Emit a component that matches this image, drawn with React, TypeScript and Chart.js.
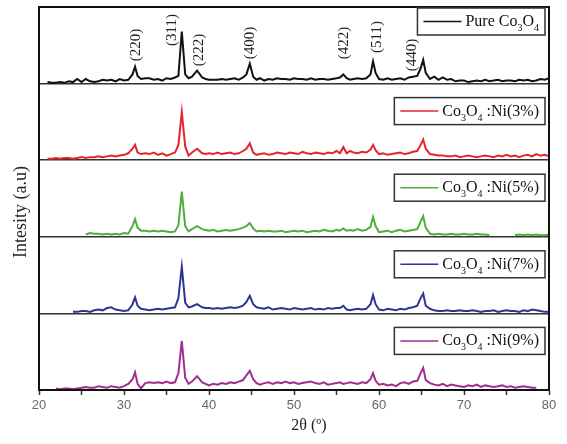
import React, { useEffect, useRef } from 'react';
import { Chart, registerables } from 'chart.js';
Chart.register(...registerables);

// 2θ positions (degrees)
const twoTheta = [
  21, 21.5, 22, 22.5, 23, 23.5, 24, 24.5, 25, 25.5, 26, 26.5, 27, 27.5, 28, 28.5, 29, 29.5, 30, 30.5, 31.0,
  31.3, 31.6,
  32, 32.5, 33, 33.5, 34, 34.5, 35, 35.5, 36,
  36.4, 36.8, 37.2, 37.6, 38,
  38.6, 39.2, 39.6,
  40, 40.5, 41, 41.5, 42, 42.5, 43, 43.5, 44,
  44.4, 44.8, 45.2, 45.6,
  46, 46.5, 47, 47.5, 48, 48.5, 49, 49.5, 50, 50.5, 51, 51.5, 52, 52.5, 53, 53.5, 54, 54.5, 55,
  55.4, 55.8, 56.2, 56.6,
  57, 57.5, 58, 58.5, 59,
  59.3, 59.6,
  60, 60.5, 61, 61.5, 62, 62.5, 63, 63.5, 64, 64.5,
  64.9, 65.2, 65.5,
  66, 66.5, 67, 67.5, 68, 68.5, 69, 69.5, 70, 70.5, 71, 71.5, 72, 72.5, 73, 73.5, 74, 74.5, 75, 75.5, 76, 76.5, 77, 77.5, 78, 78.5, 79, 79.5, 80,
];

const pureCo3O4 = [
  2, 1, 1, 2, 1, 3, 2, 6, 2, 6, 3, 2, 3, 5, 4, 5, 3, 6, 4, 5, 12,
  22, 10,
  6, 7, 7, 5, 6, 4, 7, 6, 8,
  10, 68, 12, 7, 9,
  17, 8, 6,
  5, 5, 5, 6, 5, 6, 7, 5, 8,
  12, 26, 9, 5,
  7, 4, 6, 5, 7, 6, 6, 5, 7, 6, 6, 5, 7, 5, 6, 6, 5, 6, 7,
  8, 12, 7, 5,
  6, 7, 6, 7, 12,
  29, 14,
  6, 5, 7, 5, 6, 7, 5, 8, 9, 10,
  20, 31, 14,
  6, 9, 5, 8, 5, 6, 3, 4, 4, 2, 3, 4, 3, 5, 3, 4, 5, 3, 4, 4, 3, 5, 4, 5, 3, 4, 6, 5, 7,
];

const ni3 = [
  2, 2, 3, 2, 3, 3, 2, 3, 4, 3, 4, 4, 5, 4, 5, 6, 5, 6, 7, 9, 15,
  20, 10,
  8, 9, 8, 10, 7, 9, 6, 8, 10,
  20, 63, 18, 6, 10,
  15, 9, 8,
  9, 8, 10, 8, 9, 10, 8, 9, 12,
  15, 22, 10, 7,
  8, 9, 7, 8, 10, 9, 8, 10, 9, 8, 11, 9, 8, 10, 9, 8, 10, 9, 12,
  9, 17, 9, 12,
  10, 9, 11, 10, 14,
  20, 13,
  8, 9, 7, 8, 9, 10, 8, 9, 11, 12,
  20, 27, 15,
  8, 7, 6, 6, 5, 5, 6, 4, 5, 6, 5, 4, 5, 6, 5, 4, 6, 5, 7, 5, 6, 4, 6, 7, 5, 8, 6, 7, 5,
];

const ni5 = [
  null, null, null, null, null, null, null, null, null, 3, 5, 4, 4, 3, 4, 3, 4, 3, 5, 4, 14,
  23, 12,
  8, 8, 7, 8, 7, 8, 7, 6, 7,
  15, 59, 14, 7, 10,
  14, 10, 9,
  8, 9, 7, 8, 9, 8, 9, 10, 12,
  14, 18, 11, 7,
  8, 7, 8, 7, 7, 8, 6, 7, 8, 7, 8, 6, 7, 8, 7, 9, 8, 7, 9,
  8, 11, 8, 9,
  8, 10, 8, 9, 13,
  26, 14,
  6, 7, 8, 6, 8, 9, 7, 8, 9, 10,
  20, 27, 12,
  4, 3, 4, 3, 3, 4, 3, 3, 4, 3, 3, 4, 3, 3, 2, null, null, null, null, null, 2, 3, 2, 3, 2, 3, 2, 2, 3,
];

const ni7 = [
  null, null, null, null, null, null, 2, 2, 3, 3, 2, 4, 5, 4, 7, 8, 5, 4, 3, 4, 12,
  21, 10,
  6, 5, 4, 5, 6, 5, 6, 7, 8,
  20, 61, 14, 8, 9,
  12, 8, 7,
  7, 6, 7, 6, 7, 8, 7, 8, 10,
  15, 23, 12, 8,
  7, 6, 8, 5, 6, 7, 6, 5, 7, 6, 5, 6, 7, 5, 6, 5, 7, 6, 7,
  7, 10, 5, 4,
  5, 6, 5, 6, 12,
  24, 12,
  5, 4, 6, 5, 4, 6, 5, 7, 8, 10,
  20, 26, 10,
  6, 4, 3, 3, 4, 3, 3, 4, 3, 3, 4, 3, 2, 3, 3, 4, 2, 3, 4, 3, 3, 2, 4, 3, 5, 4, 3, 2, 2,
];

const ni9 = [
  null, null, 2, 1, 2, 2, 1, 2, 3, 4, 3, 3, 5, 4, 3, 5, 4, 3, 5, 8, 14,
  23, 8,
  2, 9, 10, 9, 10, 9, 11, 9, 10,
  22, 64, 16, 8, 11,
  18, 10, 8,
  6, 8, 7, 9, 8, 10, 9, 11, 13,
  19, 25, 14, 9,
  7, 9, 10, 8, 10, 9, 11, 9, 10, 8, 9, 10, 11, 9, 8, 10, 7, 8, 9,
  10, 8, 9, 10,
  9, 8, 10, 9, 14,
  22, 12,
  7, 8, 6, 7, 5, 9, 10, 8, 11, 12,
  22, 29, 13,
  9, 7, 6, 8, 5, 7, 6, 5, 4, 6, 5, 7, 4, 6, 5, 4, 5, 6, 4, 5, 3, 4, 5, 4, 3, 3, null, null, null,
];

const seriesValues = [pureCo3O4, ni3, ni5, ni7, ni9];
const seriesNames = ['Pure Co3O4', 'Co3O4 :Ni(3%)', 'Co3O4 :Ni(5%)', 'Co3O4 :Ni(7%)', 'Co3O4 :Ni(9%)'];
const legendPrefix = ['Pure ', '', '', '', ''];
const legendSuffix = ['', ' :Ni(3%)', ' :Ni(5%)', ' :Ni(7%)', ' :Ni(9%)'];
const seriesColors = ['#111111', '#e3262b', '#4fae3c', '#2f3592', '#9e2f8e'];

const peakLabels = ['(220)', '(311)', '(222)', '(400)', '(422)', '(511)', '(440)'];
const peakLabelPos = [31.4, 35.6, 38.8, 44.8, 55.9, 59.8, 63.9];
const peakLabelYOffset = [38, 23, 43, 36, 36, 30, 48];

const xMin = 20;
const xMax = 80;
const panelHeight = 100;

const SERIF = '"Liberation Serif", "Times New Roman", serif';

function drawCo3O4(ctx: CanvasRenderingContext2D, prefix: string, suffix: string, x: number, y: number) {
  const big = '16px ' + SERIF;
  const small = '10px ' + SERIF;
  const parts: [string, boolean][] = [
    [prefix + 'Co', false], ['3', true], ['O', false], ['4', true], [suffix, false],
  ];
  let cx = x;
  for (const [t, sub] of parts) {
    if (!t) continue;
    ctx.font = sub ? small : big;
    ctx.fillText(t, cx, sub ? y + 5 : y);
    cx += ctx.measureText(t).width;
  }
  return cx - x;
}

function measureCo3O4(ctx: CanvasRenderingContext2D, prefix: string, suffix: string) {
  const parts: [string, boolean][] = [
    [prefix + 'Co', false], ['3', true], ['O', false], ['4', true], [suffix, false],
  ];
  let w = 0;
  for (const [t, sub] of parts) {
    ctx.font = (sub ? '10px ' : '16px ') + SERIF;
    w += ctx.measureText(t).width;
  }
  return w;
}

const overlayPlugin = {
  id: 'overlay',
  afterDatasetsDraw(chart: any) {
    const ctx: CanvasRenderingContext2D = chart.ctx;
    const area = chart.chartArea;
    const xs = chart.scales.x;
    const ys = chart.scales.y;
    ctx.save();
    // frame
    ctx.strokeStyle = '#111';
    ctx.lineWidth = 2;
    ctx.strokeRect(area.left, area.top, area.right - area.left, area.bottom - area.top);

    // peak labels
    ctx.fillStyle = '#222';
    ctx.font = '15px ' + SERIF;
    ctx.textAlign = 'center';
    ctx.textBaseline = 'middle';
    peakLabels.forEach((lab, i) => {
      const px = xs.getPixelForValue(peakLabelPos[i]);
      const py = area.top + peakLabelYOffset[i];
      ctx.save();
      ctx.translate(px, py);
      ctx.rotate(-Math.PI / 2);
      ctx.fillText(lab, 0, 0);
      ctx.restore();
    });

    // legend boxes
    ctx.textAlign = 'left';
    ctx.textBaseline = 'alphabetic';
    seriesValues.forEach((_, i) => {
      const panelTop = ys.getPixelForValue((5 - i) * panelHeight);
      const tw = measureCo3O4(ctx, legendPrefix[i], legendSuffix[i]);
      const w = 6 + 38 + 4 + tw + 6;
      const h = 27;
      const bx = area.right - 4 - w;
      const by = panelTop + (i === 0 ? 1 : 14);
      ctx.fillStyle = '#fff';
      ctx.fillRect(bx, by, w, h);
      ctx.strokeStyle = '#333';
      ctx.lineWidth = 1.5;
      ctx.strokeRect(bx, by, w, h);
      ctx.strokeStyle = seriesColors[i];
      ctx.lineWidth = 1.5;
      ctx.beginPath();
      ctx.moveTo(bx + 6, by + h / 2);
      ctx.lineTo(bx + 44, by + h / 2);
      ctx.stroke();
      ctx.fillStyle = '#111';
      drawCo3O4(ctx, legendPrefix[i], legendSuffix[i], bx + 48, by + 18);
    });

    // axis titles
    ctx.fillStyle = '#222';
    ctx.font = '16px ' + SERIF;
    ctx.textAlign = 'center';
    ctx.textBaseline = 'middle';
    ctx.fillText('2θ (º)', 309, 426);
    ctx.font = '18px ' + SERIF;
    ctx.save();
    ctx.translate(21, 212);
    ctx.rotate(-Math.PI / 2);
    ctx.fillText('Intesity (a.u)', 0, 0);
    ctx.restore();
    ctx.restore();
  },
};

export default function App() {
  const ref = useRef<HTMLCanvasElement>(null);
  useEffect(() => {
    document.body.style.margin = '0';
    const canvas = ref.current!;
    const datasets = seriesValues.map((vals, i) => ({
      label: seriesNames[i],
      data: twoTheta.map((x, j) => ({ x, y: vals[j] == null ? null : (vals[j] as number) + (4 - i) * panelHeight })),
      borderColor: seriesColors[i],
      borderWidth: 2,
      pointRadius: 0,
      tension: 0,
      spanGaps: false,
      fill: false,
    }));
    const chart = new Chart(canvas, {
      type: 'line',
      data: { datasets: datasets as any },
      options: {
        responsive: false,
        animation: false,
        events: [],
        layout: { padding: { left: 0, right: 18, top: 7, bottom: 0 } },
        plugins: { legend: { display: false }, tooltip: { enabled: false } },
        scales: {
          x: {
            type: 'linear',
            min: xMin,
            max: xMax,
            afterFit: (s: any) => { s.height = 54; },
            ticks: {
              stepSize: 5,
              autoSkip: false,
              maxRotation: 0,
              padding: 3,
              color: '#666',
              font: { family: '"Liberation Sans", Arial, sans-serif', size: 13 },
              callback: (v: any) => (Number(v) % 10 === 0 ? String(v) : ''),
            },
            grid: { drawOnChartArea: false, drawTicks: true, tickLength: 5, tickColor: '#333', tickWidth: 1.5 },
            border: { display: true, color: '#111', width: 2 },
          },
          y: {
            type: 'linear',
            min: 0,
            max: 5 * panelHeight,
            afterFit: (s: any) => { s.width = 39; },
            ticks: { display: false, stepSize: panelHeight },
            grid: { color: '#333', lineWidth: 1.5, drawTicks: false },
            border: { display: true, color: '#111', width: 2 },
          },
        },
      },
      plugins: [overlayPlugin],
    });
    return () => chart.destroy();
  }, []);
  return (
    <div style={{ width: 567, height: 444, background: '#fff' }}>
      <canvas ref={ref} width={567} height={444} />
    </div>
  );
}
